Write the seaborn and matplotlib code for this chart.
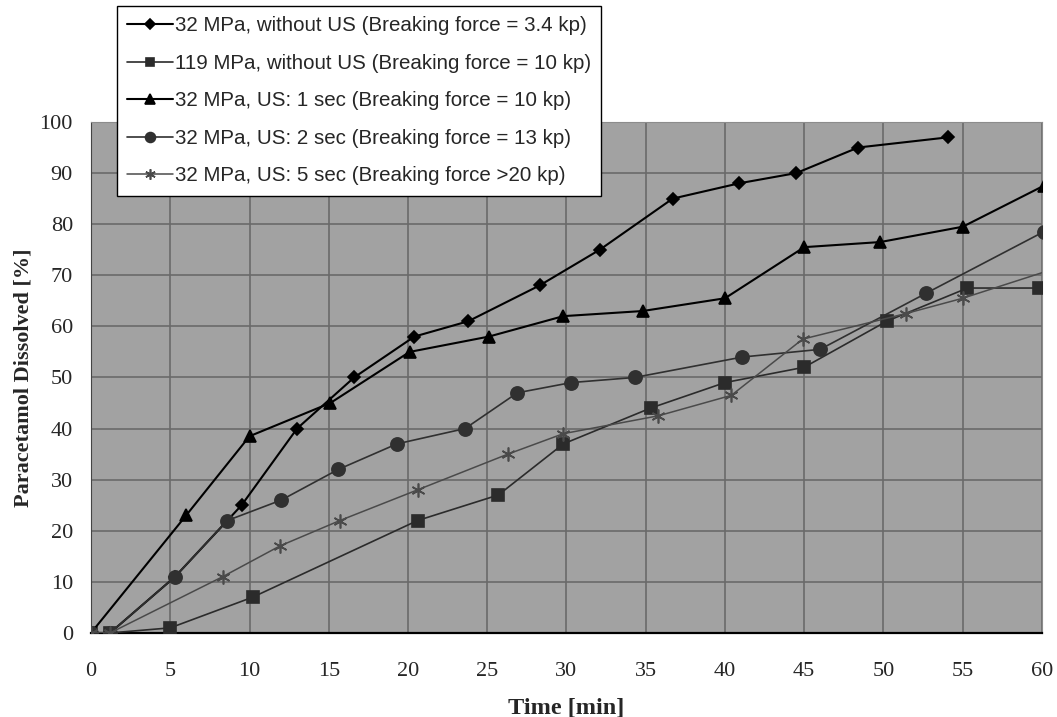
import pandas as pd
import seaborn as sns
import matplotlib.pyplot as plt
from matplotlib.ticker import MultipleLocator

# values
labels = [
    "32 MPa, without US (Breaking force = 3.4 kp)",
    "119 MPa, without US (Breaking force = 10 kp)",
    "32 MPa, US: 1 sec (Breaking force = 10 kp)",
    "32 MPa, US: 2 sec (Breaking force = 13 kp)",
    "32 MPa, US: 5 sec (Breaking force >20 kp)",
]

t_diamond = [0, 1.2, 5.3, 9.5, 13, 16.6, 20.4, 23.8, 28.3, 32.1, 36.7, 40.9, 44.5, 48.4, 54.1]
y_diamond = [0, 0, 11, 25, 40, 50, 58, 61, 68, 75, 85, 88, 90, 95, 97]

t_square = [0, 1.2, 5, 10.2, 20.6, 25.7, 29.8, 35.3, 40, 45, 50.2, 55.3, 59.8, 61]
y_square = [0, 0, 1, 7, 22, 27, 37, 44, 49, 52, 61, 67.5, 67.5, 68]

t_triangle = [0, 6, 10, 15.1, 20.1, 25.1, 29.8, 34.8, 40, 45, 49.8, 55, 60.1]
y_triangle = [0, 23, 38.5, 45, 55, 58, 62, 63, 65.5, 75.5, 76.5, 79.5, 87.5]

t_circle = [0, 1.2, 5.3, 8.6, 12, 15.6, 19.3, 23.6, 26.9, 30.3, 34.3, 41.1, 46, 52.7, 60.1]
y_circle = [0, 0, 11, 22, 26, 32, 37, 40, 47, 49, 50, 54, 55.5, 66.5, 78.5]

t_star = [0, 1.2, 8.3, 11.9, 15.7, 20.6, 26.3, 29.8, 35.8, 40.4, 44.9, 51.4, 55, 61]
y_star = [0, 0, 11, 17, 22, 28, 35, 39, 42.5, 46.5, 57.5, 62.5, 65.5, 71.5]

series = [
    (t_diamond, y_diamond, "D", 6.5, "black", 1.5),
    (t_square, y_square, "s", 8.5, "#2b2b2b", 1.2),
    (t_triangle, y_triangle, "^", 9, "black", 1.5),
    (t_circle, y_circle, "o", 9.5, "#303030", 1.2),
    (t_star, y_star, (6, 2, 0), 10, "#4a4a4a", 1.1),
]

sns.set_style("white")
plt.rcParams["font.family"] = ["Liberation Serif", "DejaVu Serif"]

fig = plt.figure(figsize=(10.57, 7.17), dpi=100)
ax = fig.add_axes([0.0861, 0.1172, 0.8997, 0.7127])
ax.set_facecolor("#a2a2a2")

for lab, (t, y, mk, ms, col, lw) in zip(labels, series):
    df = pd.DataFrame({"time": t, "dissolved": y})
    sns.lineplot(data=df, x="time", y="dissolved", ax=ax, sort=False,
                 color=col, lw=lw, marker=mk, markersize=ms,
                 markeredgecolor=col, markerfacecolor=col,
                 markeredgewidth=1.2, label=lab, zorder=3)

ax.set_xlim(0, 60)
ax.set_ylim(0, 100)
ax.xaxis.set_major_locator(MultipleLocator(5))
ax.yaxis.set_major_locator(MultipleLocator(10))
ax.yaxis.set_minor_locator(MultipleLocator(5))
ax.grid(True, which="major", color="#6a6a6a", lw=1.2, zorder=0)
ax.set_axisbelow(True)

for s in ["top", "right"]:
    ax.spines[s].set_color("#8c8c8c")
ax.spines["bottom"].set_color("black")
ax.spines["bottom"].set_linewidth(1.6)
ax.spines["left"].set_color("#444444")

ax.tick_params(axis="x", which="major", direction="out", length=6, width=1,
               color="#555555", labelsize=16, pad=15)
ax.tick_params(axis="y", which="major", direction="out", length=4, width=1,
               color="#555555", labelsize=16, pad=9)
ax.tick_params(axis="y", which="minor", direction="out", length=3, width=1,
               color="#555555")

ax.set_xlabel("Time [min]", fontsize=17.5, fontweight="bold", labelpad=12)
ax.set_ylabel("Paracetamol Dissolved [%]", fontsize=16, fontweight="bold", labelpad=4.5)

leg = ax.legend(loc="upper left", bbox_to_anchor=(117 / 1057, 1 - 6 / 717),
                bbox_transform=fig.transFigure, frameon=True, fancybox=False,
                edgecolor="black", framealpha=1, borderpad=0.5, labelspacing=0.9,
                handlelength=2.2, handletextpad=0.1, borderaxespad=0,
                markerscale=0.75,
                prop={"family": ["Liberation Sans", "DejaVu Sans"], "size": 14.8})
leg.get_frame().set_linewidth(1.0)
leg.set_zorder(10)

plt.savefig("out.png", dpi=100)
